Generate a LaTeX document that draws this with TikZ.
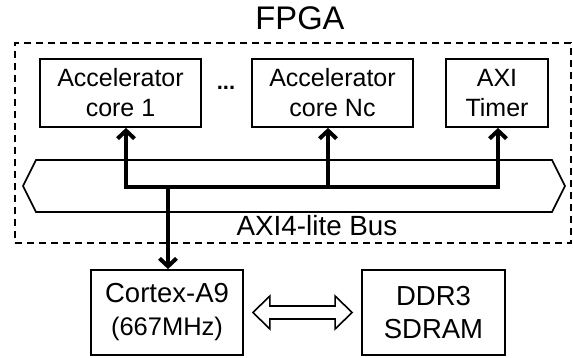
\documentclass[tikz,border=0pt]{standalone}
\usepackage{fontspec}
\setmainfont{Liberation Sans}
\usetikzlibrary{arrows.meta,calc}
\begin{document}
\begin{tikzpicture}[x=1pt,y=-1pt,
  blk/.style={draw,line width=1.8pt,inner sep=0pt,align=center},
  topfont/.style={font=\fontsize{25}{30}\selectfont},
  botfont/.style={font=\fontsize{27.5}{33}\selectfont},
  thick arrow/.style={line width=4pt,-{Straight Barb[length=8pt,width=17pt,line width=4pt]}},
  thick line/.style={line width=4pt},
  dashbox/.style={draw,line width=1.6pt,dash pattern=on 7pt off 5pt}]
\useasboundingbox (0,0) rectangle (573,358);
% FPGA region
\node[dashbox,minimum width=556pt,minimum height=200pt,inner sep=0pt] (fpga) at (293,143) {};
\node[font=\fontsize{32.7}{36}\selectfont] (fpgalbl) at (300,18) {FPGA};
% bus shape
\draw[line width=1.6pt,fill=white] (23,186) -- (36,160) -- (552,160) -- (565,186) -- (552,212) -- (36,212) -- cycle;
\node[font=\fontsize{27.8}{32}\selectfont] (buslbl) at (317,226) {AXI4-lite Bus};
% top boxes
\node[blk,topfont,minimum width=161pt,minimum height=68pt] (c1) at (120.5,93) {Accelerator\\core 1};
\node[blk,topfont,minimum width=161pt,minimum height=68pt] (cn) at (332.5,93) {Accelerator\\core Nc};
\node[blk,topfont,minimum width=102pt,minimum height=68pt] (tmr) at (497,93) {AXI\\Timer};
\node[font=\bfseries\fontsize{22}{24}\selectfont] (dots) at (226,88) {...};
% bottom boxes
\node[blk,botfont,minimum width=152pt,minimum height=85pt] (cpu) at (167,312.5) {Cortex-A9\\{\fontsize{25.5}{30}\selectfont(667MHz)}};
\node[blk,botfont,minimum width=143pt,minimum height=85pt] (ddr) at (433.5,312.5) {DDR3\\SDRAM};
% bus wiring
\coordinate (j1) at (126,187);
\coordinate (j2) at (328,187);
\coordinate (j3) at (498,187);
\coordinate (jd) at (168,187);
\draw[thick line,line cap=butt] ($(j1)+(0,2)$) -- (j1) -- (j3) -- ++(0,2);
\draw[thick arrow] ($(j1)+(0,2)$) -- (c1.south -| j1);
\draw[thick arrow] (j2) -- (cn.south -| j2);
\draw[thick arrow] ($(j3)+(0,2)$) -- (tmr.south -| j3);
\draw[thick arrow] (jd) -- (cpu.north -| jd);
% hollow double arrow
\draw[line width=1.6pt,fill=white]
  ($(cpu.east)+(9,0)$) -- ++(17,-16.5) -- ++(0,10) -- ($(ddr.west)+(-26,-6.5)$) -- ++(0,-10)
  -- ($(ddr.west)+(-9,0)$) -- ++(-17,16.5) -- ++(0,-10) -- ($(cpu.east)+(26,6.5)$) -- ++(0,10) -- cycle;
\end{tikzpicture}
\end{document}
